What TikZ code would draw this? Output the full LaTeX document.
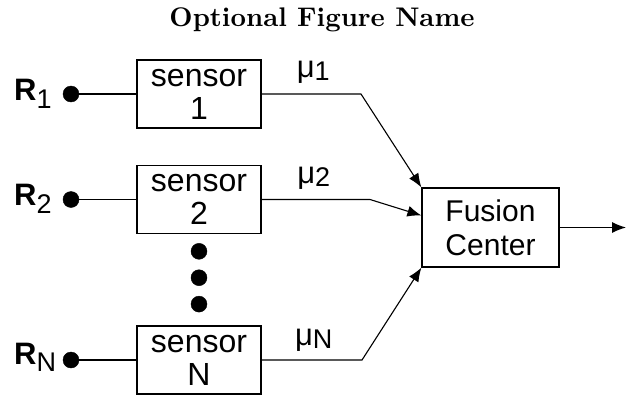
\documentclass[tikz,border=0pt]{standalone}
\usepackage{fontspec}
\newfontfamily\arialfont{Liberation Sans}
\usetikzlibrary{arrows.meta, positioning}
\newcommand{\lowidx}[2]{\raisebox{-#1}{\fontsize{27}{27}\selectfont #2}}
\tikzset{
    sensornode/.style={rectangle, draw=black, line width=1.2pt, minimum width=124pt, minimum height=68pt, inner sep=0pt, align=center, font=\arialfont\fontsize{32}{33}\selectfont},
    fusionnode/.style={rectangle, draw=black, line width=1.2pt, minimum width=137pt, minimum height=79pt, inner sep=0pt, align=center, font=\arialfont\fontsize{30}{34}\selectfont},
    myarrow/.style={-{Latex[length=14pt,width=11pt]}, line width=1.1pt},
    myline/.style={line width=1.1pt},
    mylabel/.style={inner sep=0pt, font=\arialfont\fontsize{31}{31}\selectfont},
    mulabel/.style={inner sep=0pt, font=\arialfont\fontsize{31}{31}\selectfont},
    mydot/.style={draw, shape=circle, fill=black, inner sep=0pt, minimum size=16pt}
}
\begin{document}
\begin{tikzpicture}[x=1pt, y=-1pt, node distance=10pt]
        \useasboundingbox (0,0) rectangle (628,396);

        % ------------------
        % nodes
        % ------------------

        \node[anchor=base, inner sep=0pt] (title) at (322,27) {\resizebox{305pt}{!}{\bfseries Optional Figure Name}};

        \node[sensornode] (sensor1) at (199,94) {sensor\\1};
        \node[sensornode] (sensor2) at (199,199.5) {sensor\\2};
        \node[sensornode] (sensorN) at (199,360) {sensor\\N};

        \node[mydot] (in1) at (71,94) {};
        \node[mydot] (in2) at (71,199.5) {};
        \node[mydot] (inN) at (71,360) {};

        \node[mylabel, anchor=base west] (r1) at (14,100) {\textbf{R}\lowidx{8pt}{1}};
        \node[mylabel, anchor=base west] (r2) at (14,205) {\textbf{R}\lowidx{8pt}{2}};
        \node[mylabel, anchor=base west] (rN) at (14,364) {\textbf{R}\lowidx{7pt}{N}};

        \node[mydot, below=9pt of sensor2] (dot1) {};
        \node[mydot, below=of dot1] (dot2) {};
        \node[mydot, below=of dot2] (dot3) {};

        \node[fusionnode] (fusion) at (490.5,227.5) {Fusion\\Center};

        \coordinate (bend1) at (361,94);
        \coordinate (bend2) at (370,199.5);
        \coordinate (bendN) at (362,360);
        \coordinate (out) at (626,227.5);

        % ------------------
        % arrows
        % ------------------

        \draw[myline] (in1) -- (sensor1);
        \draw[myline] (in2) -- (sensor2);
        \draw[myline] (inN) -- (sensorN);

        \draw[myarrow] (sensor1.east) -- node[mulabel, above=10pt, xshift=2pt]{μ\lowidx{3pt}{1}} (bend1) -- (fusion.north west);
        \draw[myarrow] (sensor2.east) -- node[mulabel, above=10pt, xshift=-2pt]{μ\lowidx{3pt}{2}} (bend2) -- ([yshift=12pt]fusion.west);
        \draw[myarrow] (sensorN.east) -- node[mulabel, above=8pt, xshift=2pt]{μ\lowidx{3pt}{N}} (bendN) -- (fusion.south west);

        \draw[myarrow] (fusion.east) -- (out);

    \end{tikzpicture}
\end{document}
